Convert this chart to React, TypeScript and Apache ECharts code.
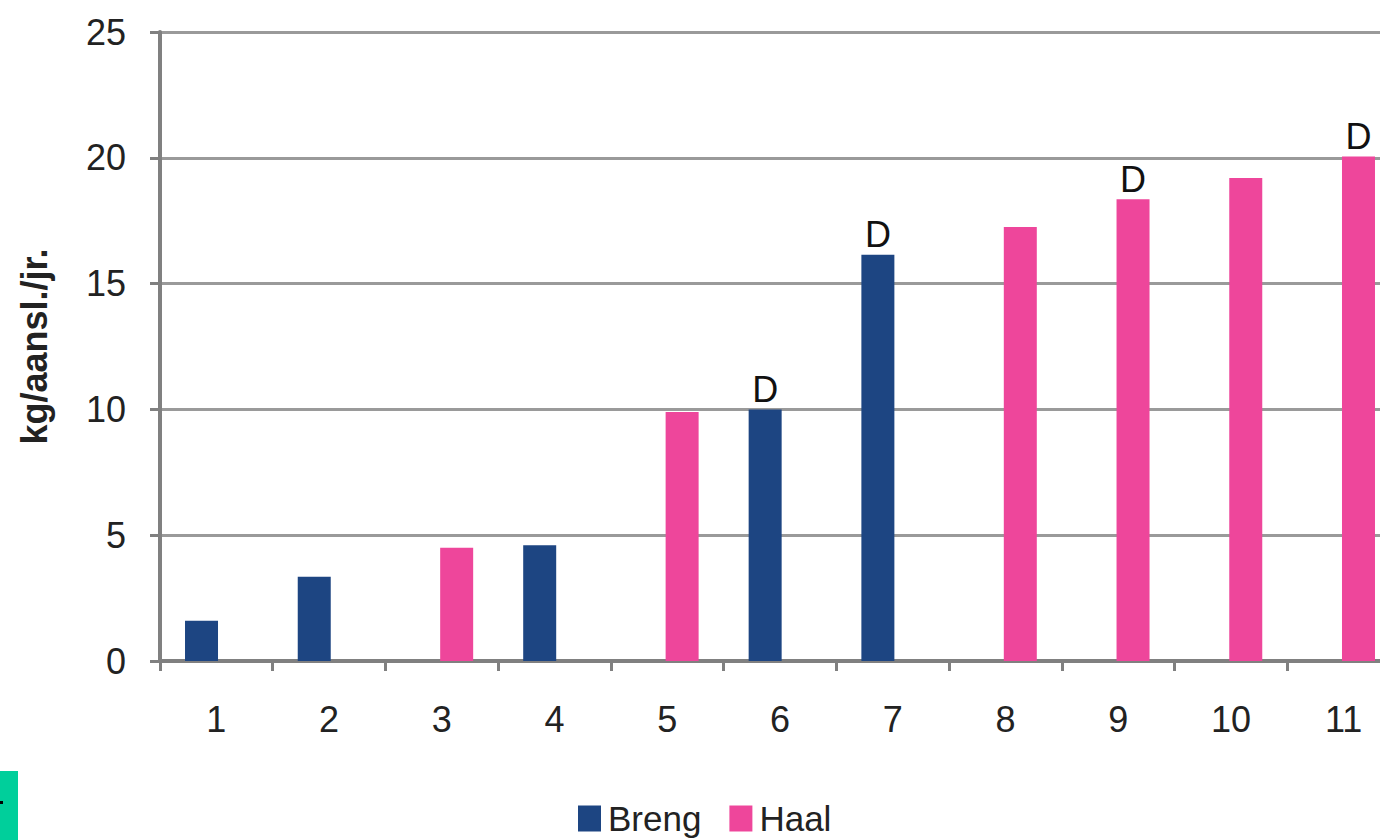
import React, { useEffect, useRef } from "react";
import * as echarts from "echarts";

const categories = ["1", "2", "3", "4", "5", "6", "7", "8", "9", "10", "11"];
const brengValues = [1.6, 3.35, null, 4.6, null, 10.0, 16.15, null, null, null, null];
const haalValues = [null, null, 4.5, null, 9.9, null, null, 17.25, 18.35, 19.2, 20.05];
const brengMarks = ["", "", "", "", "", "D", "D", "", "", "", ""];
const haalMarks = ["", "", "", "", "", "", "", "", "D", "", "D"];
const yTicks = [0, 5, 10, 15, 20, 25];

const FONT = "'Liberation Sans', Arial, sans-serif";

export default function App() {
  const ref = useRef<HTMLDivElement>(null);
  useEffect(() => {
    if (!ref.current) return;
    const chart = echarts.init(ref.current, null, { renderer: "svg" });
    const mk = (vals: (number | null)[], marks: string[]) =>
      vals.map((v, i) => ({ value: v, mark: marks[i] }));
    chart.setOption({
      animation: false,
      backgroundColor: "#ffffff",
      textStyle: { fontFamily: FONT },
      grid: {
        left: 160,
        top: 32,
        height: 629,
        width: 1240,
        containLabel: false,
        outerBoundsMode: "none",
      },
      legend: {
        left: 573,
        top: 796,
        itemWidth: 23,
        itemHeight: 26,
        itemGap: 28,
        icon: "rect",
        textStyle: { fontSize: 35, color: "#222", fontFamily: FONT, padding: [0, 0, 0, 2] },
        data: ["Breng", "Haal"],
      },
      xAxis: {
        type: "category",
        data: categories,
        axisLine: { lineStyle: { color: "#808080", width: 4 } },
        axisTick: { show: true, length: 10, lineStyle: { color: "#808080", width: 3 } },
        axisLabel: { fontSize: 36, color: "#222", margin: 40, fontFamily: FONT },
      },
      yAxis: {
        type: "value",
        min: yTicks[0],
        max: yTicks[yTicks.length - 1],
        interval: 5,
        name: "kg/aansl./jr.",
        nameLocation: "middle",
        nameGap: 108,
        nameTextStyle: { fontSize: 36, fontWeight: "bold", color: "#222", fontFamily: FONT },
        axisLine: { show: true, lineStyle: { color: "#808080", width: 4 } },
        axisTick: { show: true, length: 10, lineStyle: { color: "#808080", width: 3 } },
        splitLine: { lineStyle: { color: "#9a9a9a", width: 3 } },
        axisLabel: { fontSize: 36, color: "#222", margin: 34, fontFamily: FONT },
      },
      series: [
        {
          name: "Breng",
          type: "bar",
          data: mk(brengValues, brengMarks),
          barWidth: 33,
          barGap: "-10%",
          itemStyle: { color: "#1d4582" },
          label: {
            show: true,
            position: "top",
            distance: 2,
            fontSize: 36,
            color: "#111",
            fontFamily: FONT,
            formatter: (p: any) => p.data.mark || "",
          },
        },
        {
          name: "Haal",
          type: "bar",
          data: mk(haalValues, haalMarks),
          barWidth: 33,
          barGap: "-10%",
          itemStyle: { color: "#ee469b" },
          label: {
            show: true,
            position: "top",
            distance: 2,
            fontSize: 36,
            color: "#111",
            fontFamily: FONT,
            formatter: (p: any) => p.data.mark || "",
          },
        },
      ],
      graphic: [
        {
          type: "rect",
          shape: { x: 0, y: 771, width: 18, height: 69 },
          style: { fill: "#00cf9b" },
        },
        {
          type: "rect",
          shape: { x: 0, y: 801, width: 3, height: 3 },
          style: { fill: "#000" },
        },
      ],
    });
    return () => chart.dispose();
  }, []);
  return (
    <div
      ref={ref}
      style={{ position: "fixed", left: 0, top: 0, width: 1380, height: 840 }}
    />
  );
}
